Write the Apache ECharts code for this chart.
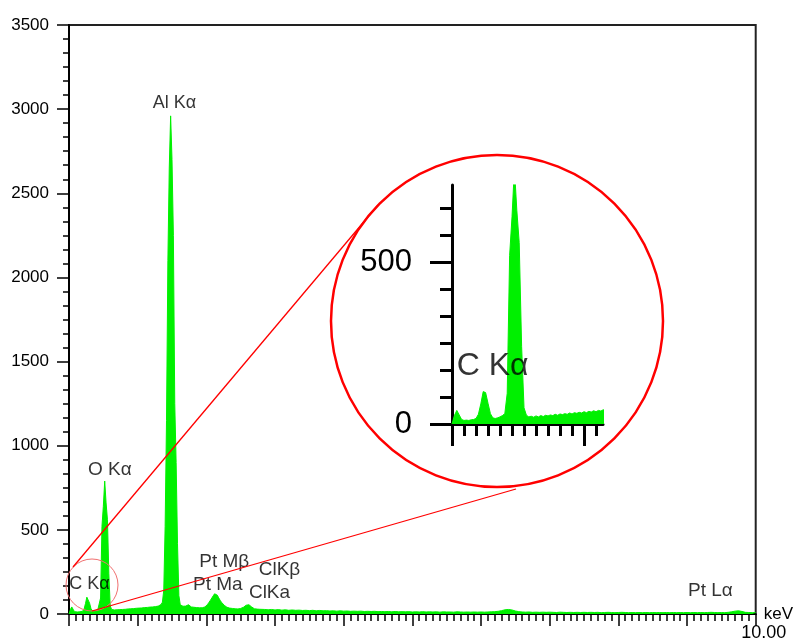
<!DOCTYPE html>
<html><head><meta charset="utf-8">
<script src="https://cdn.jsdelivr.net/npm/echarts@6/dist/echarts.min.js"></script>
<style>html,body{margin:0;padding:0;background:#fff}#c{width:796px;height:642px}</style>
</head><body><div id="c"></div>
<script>
// ---- Spectrum data (energy in keV, counts) ----
const energiesLow = [
0,0.02,0.04,0.06,0.08,0.1,0.12,0.14,0.16,0.18,
0.2,0.22,0.24,0.26,0.28,0.3,0.32,0.34,0.36,0.38,
0.4,0.42,0.44,0.46,0.48,0.5,0.52,0.54,0.56,0.58,
0.6,0.62,0.64,0.66,0.68,0.7,0.72,0.74,0.76,0.78,
0.8,0.82,0.84,0.86,0.88,0.9,0.92,0.94,0.96,0.98,
1.0,1.02,1.04,1.06,1.08,1.1,1.12,1.14,1.16,1.18,
1.2,1.22,1.24,1.26,1.28,1.3,1.32,1.34,1.36,1.38,
1.4,1.42,1.44,1.46,1.48,1.5,1.52,1.54,1.56,1.58,
1.6,1.62,1.64,1.66,1.68,1.7,1.72,1.74,1.76,1.78,
1.8,1.82,1.84,1.86,1.88,1.9,1.92,1.94,1.96,1.98,
2.0,2.02,2.04,2.06,2.08,2.1,2.12,2.14,2.16,2.18,
2.2,2.22,2.24,2.26,2.28,2.3,2.32,2.34,2.36,2.38,
2.4,2.42,2.44,2.46,2.48,2.5,2.52,2.54,2.56,2.58,
2.6,2.62,2.64,2.66,2.68,2.7,2.72,2.74,2.76,2.78,
2.8];
const countsLow = [
0,26,42,28,14,11,12,11,13,14,
17,30,62,100,97,64,32,19,17,19,
22,26,32,95,520,640,790,660,560,240,
50,27,22,24,21,25,22,26,23,27,
25,28,26,30,27,31,29,32,30,34,
31,35,33,36,34,38,35,39,37,41,
38,42,40,44,42,47,50,56,70,140,
520,1150,2100,2650,2960,2700,2250,1250,900,420,
110,55,44,46,41,47,53,55,48,42,
38,40,36,38,35,37,34,37,38,42,
48,58,70,82,95,108,120,125,112,96,
82,70,60,52,45,40,38,35,36,33,
34,31,33,30,32,33,36,40,46,52,
56,55,50,42,36,31,28,29,27,28,
26];
const energiesHigh = [
2.85,2.9,2.95,
3.0,3.05,3.1,3.15,3.2,3.25,3.3,3.35,3.4,3.45,3.5,3.55,3.6,3.65,3.7,3.75,3.8,3.85,3.9,3.95,
4.0,4.05,4.1,4.15,4.2,4.25,4.3,4.35,4.4,4.45,4.5,4.55,4.6,4.65,4.7,4.75,4.8,4.85,4.9,4.95,
5.0,5.05,5.1,5.15,5.2,5.25,5.3,5.35,5.4,5.45,5.5,5.55,5.6,5.65,5.7,5.75,5.8,5.85,5.9,5.95,
6.0,6.05,6.1,6.15,6.2,6.25,6.3,6.35,6.4,6.45,6.5,6.55,6.6,6.65,6.7,6.75,6.8,6.85,6.9,6.95,
7.0,7.05,7.1,7.15,7.2,7.25,7.3,7.35,7.4,7.45,7.5,7.55,7.6,7.65,7.7,7.75,7.8,7.85,7.9,7.95,
8.0,8.05,8.1,8.15,8.2,8.25,8.3,8.35,8.4,8.45,8.5,8.55,8.6,8.65,8.7,8.75,8.8,8.85,8.9,8.95,
9.0,9.05,9.1,9.15,9.2,9.25,9.3,9.35,9.4,9.45,9.5,9.55,9.6,9.65,9.7,9.75,9.8,9.85,9.9,9.95,
10.0];
const countsHigh = [
27,25,27,
24,26,23,25,22,24,22,23,21,22,20,22,19,21,19,20,18,19,17,19,
17,18,16,17,16,17,15,16,15,16,14,15,14,15,13,15,13,14,13,14,
12,13,12,14,12,13,12,13,11,13,12,12,11,13,12,11,12,11,12,11,
12,11,12,13,14,16,20,25,27,24,18,14,12,11,12,10,11,10,11,10,
11,10,9,11,10,9,10,9,10,9,10,9,10,9,10,8,9,10,9,8,
9,10,9,8,9,8,9,8,9,8,9,8,9,8,9,8,9,8,9,8,
9,8,9,8,9,8,9,10,9,8,9,8,10,13,17,19,15,10,9,8,
8];

// ---- Peak annotations (text anchored at energy / counts) ----
const peakLabels      = ['Al K\u03b1','O K\u03b1','C K\u03b1','Pt M\u03b2','Pt Ma','ClK\u03b2','ClKa','Pt L\u03b1'];
const peakLabelEnergy = [1.536, 0.594, 0.297, 2.26, 2.167, 3.065, 2.92, 9.34];
const peakLabelCount  = [3039, 856, 178, 309, 172, 261, 125, 140];
const peakLabelSize   = [18, 19, 18, 19, 19, 19, 19, 19];

// ---- Axis ticks ----
const xLabelValues = [10];
const insetXMajorTicks = [0, 1.1];
const insetXMinorTicks = [0.1,0.2,0.3,0.4,0.5,0.6,0.7,0.8,0.9,1.0,1.2];
const insetYMajorTicks = [0, 500];
const insetYMinorTicks = [83.33,166.67,250,333.33,416.67,583.33,666.67];
const insetLabelText = ['C K\u03b1'];
const insetLabelEnergy = [0.339];
const insetLabelCount = [179];

const spectrum = energiesLow.map((e,i)=>[e,countsLow[i]])
  .concat(energiesHigh.map((e,i)=>[e,countsHigh[i]]));

const GREEN = '#00f000';
const INK = '#000';
const FONT = 'Liberation Sans, Arial, sans-serif';

const chart = echarts.init(document.getElementById('c'), null, {renderer:'canvas'});

const hiddenAxisBits = {splitLine:{show:false}, minorSplitLine:{show:false}};
const labelPlain = {textBorderWidth:0, textShadowBlur:0};

chart.setOption({
  animation:false,
  backgroundColor:'#fff',
  grid:[
    {left:69, top:25, width:690, height:589, show:true, borderColor:'#222', borderWidth:2, backgroundColor:'transparent'},
    {left:452, top:185, width:151, height:239}
  ],
  xAxis:[
    {gridIndex:0, type:'value', position:'bottom', min:0, max:10, interval:1,
     axisLine:{onZero:false, lineStyle:{color:INK, width:2}},
     axisTick:{inside:false, length:12, lineStyle:{color:INK, width:1.5}},
     minorTick:{show:true, splitNumber:10, length:7, lineStyle:{color:INK, width:1.5}},
     axisLabel:{show:true, showMaxLabel:true, fontSize:18, color:INK, fontFamily:FONT, margin:10, padding:[0,0,0,16],
       formatter:v=> xLabelValues.indexOf(v)>=0 ? v.toFixed(2) : ''},
     name:'keV', nameLocation:'end', nameGap:8,
     nameTextStyle:{fontSize:17, color:INK, fontFamily:FONT, align:'left', verticalAlign:'middle', padding:[0,0,20,0]},
     ...hiddenAxisBits},
    {gridIndex:1, type:'value', position:'bottom', min:0, max:1.258,
     axisLine:{onZero:false, lineStyle:{color:INK, width:3}},
     axisTick:{inside:false, length:22, customValues:insetXMajorTicks, lineStyle:{color:INK, width:3}},
     axisLabel:{show:false}, ...hiddenAxisBits},
    {gridIndex:1, type:'value', position:'bottom', offset:0, min:0, max:1.258,
     axisLine:{show:false, onZero:false},
     axisTick:{inside:false, length:12, customValues:insetXMinorTicks, lineStyle:{color:INK, width:3}},
     axisLabel:{show:false}, ...hiddenAxisBits}
  ],
  yAxis:[
    {gridIndex:0, type:'value', position:'left', min:0, max:3500, interval:500,
     axisLine:{show:true, onZero:false, lineStyle:{color:INK, width:2}},
     axisTick:{show:true, inside:false, length:12, lineStyle:{color:INK, width:1.5}},
     minorTick:{show:true, splitNumber:6, length:6, lineStyle:{color:INK, width:1.5}},
     axisLabel:{fontSize:17, color:INK, fontFamily:FONT, margin:20, formatter:v=>String(v)},
     ...hiddenAxisBits},
    {gridIndex:1, type:'value', position:'left', min:0, max:738,
     axisLine:{show:true, onZero:false, lineStyle:{color:INK, width:3}},
     axisTick:{show:true, inside:false, length:22, customValues:insetYMajorTicks, lineStyle:{color:INK, width:3}},
     axisLabel:{show:true, customValues:insetYMajorTicks, fontSize:31, color:INK, fontFamily:FONT, margin:40,
       formatter:v=> insetYMajorTicks.indexOf(v)>=0 ? String(v) : ''},
     ...hiddenAxisBits},
    {gridIndex:1, type:'value', position:'left', offset:0, min:0, max:738,
     axisLine:{show:false, onZero:false},
     axisTick:{show:true, inside:false, length:12, customValues:insetYMinorTicks, lineStyle:{color:INK, width:3}},
     axisLabel:{show:false}, ...hiddenAxisBits}
  ],
  series:[
    {type:'line', xAxisIndex:0, yAxisIndex:0, data:spectrum, showSymbol:false, symbol:'none',
     lineStyle:{color:GREEN, width:1}, areaStyle:{color:GREEN, opacity:1}, z:2, silent:true},
    {type:'line', xAxisIndex:1, yAxisIndex:1, data:spectrum, showSymbol:false, symbol:'none', clip:true,
     lineStyle:{color:GREEN, width:1}, areaStyle:{color:GREEN, opacity:1}, z:2, silent:true},
    {type:'scatter', xAxisIndex:0, yAxisIndex:0, symbolSize:0, silent:true, z:5,
     data: peakLabels.map((t,i)=>({name:t, value:[peakLabelEnergy[i], peakLabelCount[i]],
        label:{fontSize:peakLabelSize[i]}})),
     label:{show:true, position:'inside', color:INK, fontFamily:FONT, ...labelPlain, formatter:p=>p.name}},
    {type:'scatter', xAxisIndex:1, yAxisIndex:1, symbolSize:0, silent:true, z:5, clip:false,
     data: insetLabelText.map((t,i)=>({name:t, value:[insetLabelEnergy[i], insetLabelCount[i]]})),
     label:{show:true, position:'inside', color:INK, fontFamily:FONT, fontSize:32, ...labelPlain, formatter:p=>p.name}}
  ],
  graphic:[
    {type:'circle', z:100, silent:true, shape:{cx:497, cy:321, r:166}, style:{fill:'none', stroke:'#ff0000', lineWidth:2.5}},
    {type:'circle', z:100, silent:true, shape:{cx:92, cy:585, r:26}, style:{fill:'none', stroke:'#f07070', lineWidth:1}},
    {type:'line', z:100, silent:true, shape:{x1:73, y1:567, x2:378, y2:205}, style:{stroke:'#ff0000', lineWidth:1.3}},
    {type:'line', z:100, silent:true, shape:{x1:92, y1:611, x2:516, y2:489}, style:{stroke:'#ff0000', lineWidth:1.3}}
  ]
});
</script>
</body></html>
